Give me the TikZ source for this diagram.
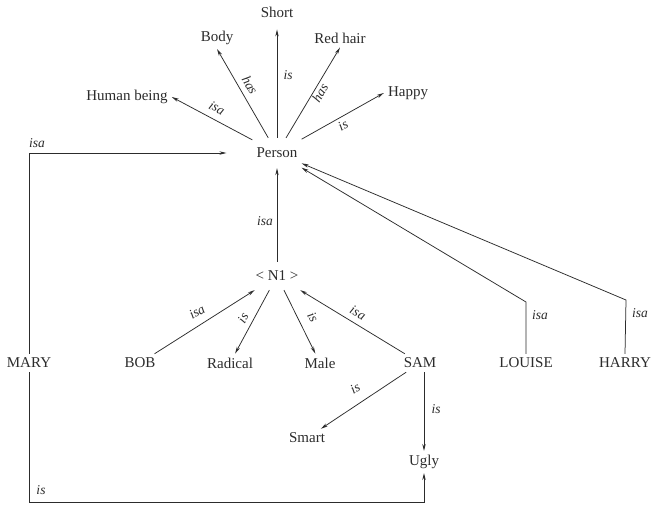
\documentclass[tikz,border=0pt]{standalone}
\usepackage{fontspec}
\setmainfont{Liberation Serif}
\usetikzlibrary{arrows.meta}
\definecolor{ink}{HTML}{2C2C2C}
\begin{document}
\begin{tikzpicture}[x=1pt,y=-1pt,
  concept/.style={font=\fontsize{15}{17}\selectfont, text=ink, inner sep=4pt},
  hub/.style={concept, inner ysep=10pt},
  rel/.style={font=\fontsize{13.5}{15}\selectfont\itshape, text=ink, inner sep=0pt},
  link/.style={draw=ink, line width=0.75pt, -{Stealth[length=7pt,width=3.4pt]}},
  wire/.style={draw=ink, line width=0.75pt}]
\useasboundingbox (0,0) rectangle (658,504);
\fill[white] (0,0) rectangle (658,504);

% concepts
\node[concept] (short)   at (277,12)  {Short};
\node[concept] (body)    at (217,38)  {Body};
\node[concept] (red)     at (340,38)  {Red hair};
\node[concept] (human)   at (127,97)  {Human being};
\node[concept] (happy)   at (408,93)  {Happy};
\node[hub]     (person)  at (277,153) {Person};
\node[concept, inner ysep=9pt] (n1) at (277,276) {< N1 >};
\node[concept] (mary)    at (29,363)  {MARY};
\node[concept] (bob)     at (140,363) {BOB};
\node[concept] (radical) at (230,363) {Radical};
\node[concept] (male)    at (320,363) {Male};
\node[concept] (sam)     at (420,363) {SAM};
\node[concept] (louise)  at (526,363) {LOUISE};
\node[concept] (harry)   at (625,363) {HARRY};
\node[concept] (smart)   at (307,438) {Smart};
\node[concept] (ugly)    at (424,462) {Ugly};

% bends of the long connectors
\coordinate (lbend) at (526,302);
\coordinate (hbend) at (626,300);
\coordinate (mlow)  at (29,502);
\coordinate (ulow)  at (424,502);

% properties of Person
\draw[link] (person) -- (human.east);
\draw[link] (person) -- (body.south);
\draw[link, shorten >=8pt] (person) -- (short.south);
\draw[link] (person) -- (red.south);
\draw[link] (person) -- (happy.west);

\node[rel, rotate=-28.6] (lhuman) at (217,108) {isa};
\node[rel, rotate=-59.5] (lbody)  at (250,85)  {has};
\node[rel]               (lshort) at (288,75)  {is};
\node[rel, rotate=60]    (lred)   at (320,93)  {has};
\node[rel, rotate=29.4]  (lhappy) at (343,125) {is};

% the generic node
\draw[link] (n1) -- (person);
\node[rel] (ln1) at (265,221) {isa};

\draw[link] (bob) -- (n1);
\draw[link] (n1) -- (radical);
\draw[link] (n1) -- (male);
\draw[link] (sam) -- (n1);
\node[rel, rotate=29.7]  (lbob) at (197,312) {isa};
\node[rel, rotate=60]    (lrad) at (243,318) {is};
\node[rel, rotate=-61]   (lmal) at (313,317) {is};
\node[rel, rotate=-29.6] (lsam) at (358,313) {isa};

% SAM
\draw[link] (sam) -- (smart);
\draw[link] (sam.south -| ugly) -- (ugly.north);
\node[rel, rotate=29.5] (lsmart) at (355,388) {is};
\node[rel] (lugly) at (436,409) {is};

% MARY
\draw[link, shorten >=26pt] (mary.north) |- (person.west);
\node[rel] (lmaryp) at (37,143) {isa};
\draw[link] (mary.south) -- (mlow) -- (ulow) -- (ugly.south);
\node[rel] (lmaryu) at (41,490) {is};

% LOUISE and HARRY
\draw[link] (louise.north) -- (lbend) -- (person);
\draw[link] (harry.north) -- (hbend) -- (person);
\node[rel] (llou) at (540,315) {isa};
\node[rel] (lhar) at (640,313) {isa};
\end{tikzpicture}
\end{document}
